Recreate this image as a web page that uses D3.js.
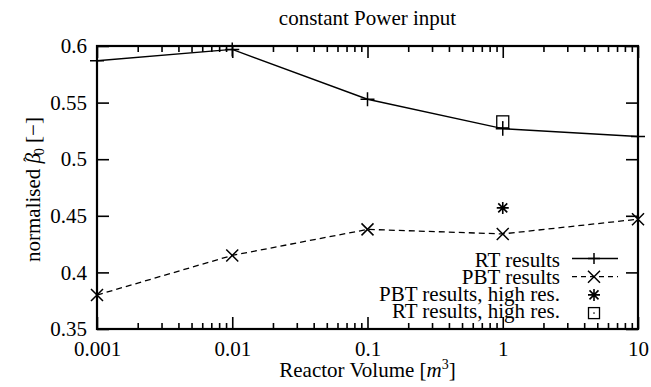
<!DOCTYPE html>
<html><head><meta charset="utf-8">
<script src="https://cdn.jsdelivr.net/npm/d3@7"></script>
<style>
body{margin:0;background:#fff}
svg text, svg tspan{font-family:"Liberation Serif" !important}
</style>
</head><body>
<svg id="c" width="651" height="387" font-family="Liberation Serif"></svg>
<script>
const volumes = [0.001, 0.01, 0.1, 1, 10];
const rtResults = [0.587, 0.597, 0.553, 0.527, 0.520];
const pbtResults = [0.380, 0.415, 0.438, 0.434, 0.447];
const hiResVolumes = [1];
const pbtHighRes = [0.457];
const rtHighRes = [0.533];
const xTicks = [0.001, 0.01, 0.1, 1, 10];
const xTickLabels = ["0.001", "0.01", "0.1", "1", "10"];
const yTicks = [0.35, 0.4, 0.45, 0.5, 0.55, 0.6];
const yTickLabels = ["0.35", "0.4", "0.45", "0.5", "0.55", "0.6"];
const legendLabels = ["RT results", "PBT results", "PBT results, high res.", "RT results, high res."];

const FONT = '"Liberation Serif"';
const svg = d3.select("#c");
const L = 97, R = 638, T = 46, B = 329;
const FS = 21;
const x = d3.scaleLog().domain([0.001, 10]).range([L, R]);
const y = d3.scaleLinear().domain([0.35, 0.6]).range([B, T]);

const minor = [];
for (let e = -3; e < 1; e++) for (let m = 2; m <= 9; m++) minor.push(m * Math.pow(10, e));

function styleAxis(g, showText) {
  g.attr("font-family", "Liberation Serif").attr("font-size", FS);
  g.select(".domain").remove();
  g.selectAll(".tick line").attr("stroke", "#000").attr("stroke-width", 1.6);
  if (!showText) g.selectAll(".tick text").remove();
  else g.selectAll(".tick text").attr("fill", "#000").attr("font-family", "Liberation Serif")
    .style("font-family", FONT, "important").attr("font-size", FS);
}
const xf = (d) => xTickLabels[xTicks.indexOf(d)];
const yf = (d) => yTickLabels[yTicks.findIndex(v => Math.abs(v - d) < 1e-9)];

svg.append("g").attr("transform", `translate(0,${B})`)
  .call(d3.axisBottom(x).tickValues(xTicks).tickFormat(xf).tickSize(-12).tickPadding(12.5))
  .call(g => styleAxis(g, true));
svg.append("g").attr("transform", `translate(0,${B})`)
  .call(d3.axisBottom(x).tickValues(minor).tickFormat("").tickSize(-6))
  .call(g => styleAxis(g, false));
svg.append("g").attr("transform", `translate(0,${T})`)
  .call(d3.axisTop(x).tickValues(xTicks).tickFormat("").tickSize(-12))
  .call(g => styleAxis(g, false));
svg.append("g").attr("transform", `translate(0,${T})`)
  .call(d3.axisTop(x).tickValues(minor).tickFormat("").tickSize(-6))
  .call(g => styleAxis(g, false));
svg.append("g").attr("transform", `translate(${L},0)`)
  .call(d3.axisLeft(y).tickValues(yTicks).tickFormat(yf).tickSize(-12).tickPadding(10))
  .call(g => styleAxis(g, true));
svg.append("g").attr("transform", `translate(${R},0)`)
  .call(d3.axisRight(y).tickValues(yTicks).tickFormat("").tickSize(-12))
  .call(g => styleAxis(g, false));

svg.append("rect").attr("x", L).attr("y", T).attr("width", R - L).attr("height", B - T)
  .attr("fill", "none").attr("stroke", "#000").attr("stroke-width", 2.2);

const line = d3.line().x(d => x(d[0])).y(d => y(d[1]));
const rtPts = volumes.map((v, i) => [v, rtResults[i]]);
const pbtPts = volumes.map((v, i) => [v, pbtResults[i]]);

svg.append("path").attr("d", line(rtPts)).attr("fill", "none").attr("stroke", "#000").attr("stroke-width", 1.4);
svg.append("path").attr("d", line(pbtPts)).attr("fill", "none").attr("stroke", "#000").attr("stroke-width", 1.3)
  .attr("stroke-dasharray", "6,4");

const plusP = "M-7,0H7M0,-7V7";
const plusLegP = "M-6,0H6M0,-5.5V5.5";
const crossP = "M-6,-6L6,6M-6,6L6,-6";
const starP = "M-6,0H6M0,-6V6M-4.5,-4.5L4.5,4.5M-4.5,4.5L4.5,-4.5";

function marks(pts, d, sw) {
  svg.append("g").selectAll("path").data(pts).join("path")
    .attr("transform", p => `translate(${x(p[0])},${y(p[1])})`)
    .attr("d", d).attr("fill", "none").attr("stroke", "#000").attr("stroke-width", sw);
}
marks(rtPts, plusP, 1.5);
marks(pbtPts, crossP, 1.5);
marks(hiResVolumes.map((v, i) => [v, pbtHighRes[i]]), starP, 1.6);
const sq = svg.append("g").selectAll("g").data(hiResVolumes.map((v, i) => [v, rtHighRes[i]])).join("g")
  .attr("transform", p => `translate(${x(p[0])},${y(p[1])})`);
sq.append("rect").attr("x", -6).attr("y", -6).attr("width", 12).attr("height", 12)
  .attr("fill", "none").attr("stroke", "#000").attr("stroke-width", 1.3);
sq.append("circle").attr("r", 0.8).attr("fill", "#000");

function txt(sel) {
  return sel.attr("font-family", "Liberation Serif").style("font-family", FONT, "important")
    .attr("fill", "#000").attr("font-size", FS);
}

// legend
const legX = 560, legY0 = 266.5, legDY = 17.3, mY0 = 258.5, mDY = 18.2, s0 = 572, s1 = 618, sc = 594;
legendLabels.forEach((t, i) => {
  const by = legY0 + i * legDY;
  txt(svg.append("text")).attr("x", legX).attr("y", by).attr("text-anchor", "end").text(t);
  const my = mY0 + i * mDY;
  const g = svg.append("g");
  if (i === 0) {
    g.append("line").attr("x1", s0).attr("x2", s1).attr("y1", my).attr("y2", my).attr("stroke", "#000").attr("stroke-width", 1.4);
    g.append("path").attr("transform", `translate(${sc},${my})`).attr("d", plusLegP).attr("stroke", "#000").attr("stroke-width", 1.5);
  } else if (i === 1) {
    g.append("line").attr("x1", s0).attr("x2", s1).attr("y1", my).attr("y2", my).attr("stroke", "#000").attr("stroke-width", 1.3).attr("stroke-dasharray", "5,4");
    g.append("path").attr("transform", `translate(${sc},${my})`).attr("d", crossP).attr("stroke", "#000").attr("stroke-width", 1.5);
  } else if (i === 2) {
    g.append("path").attr("transform", `translate(${sc},${my})`).attr("d", starP).attr("stroke", "#000").attr("stroke-width", 1.6);
  } else {
    g.append("rect").attr("x", sc - 5.5).attr("y", my - 5.5).attr("width", 11).attr("height", 11)
      .attr("fill", "none").attr("stroke", "#000").attr("stroke-width", 1.3);
    g.append("circle").attr("cx", sc).attr("cy", my).attr("r", 0.8).attr("fill", "#000");
  }
});

// title
txt(svg.append("text")).attr("x", (L + R) / 2).attr("y", 25).attr("text-anchor", "middle")
  .text("constant Power input");

// x label
const xl = txt(svg.append("text")).attr("x", (L + R) / 2).attr("y", 377).attr("text-anchor", "middle");
xl.append("tspan").text("Reactor Volume [");
xl.append("tspan").attr("font-style", "italic").text("m");
xl.append("tspan").attr("font-size", 14).attr("dy", -8).text("3");
xl.append("tspan").attr("dy", 8).text("]");

// y label
const yl = txt(svg.append("text")).attr("transform", `translate(40,${(T + B) / 2 + 2}) rotate(-90)`)
  .attr("text-anchor", "middle");
yl.append("tspan").text("normalised ");
yl.append("tspan").attr("font-style", "italic").text("\u03B2");
yl.append("tspan").attr("dx", -9).attr("dy", -5).attr("font-size", 16).text("\u02C6");
yl.append("tspan").attr("font-size", 14).attr("dx", 1.5).attr("dy", 9).text("0");
yl.append("tspan").attr("dy", -4).text(" [\u2212]");
</script>
</body></html>
